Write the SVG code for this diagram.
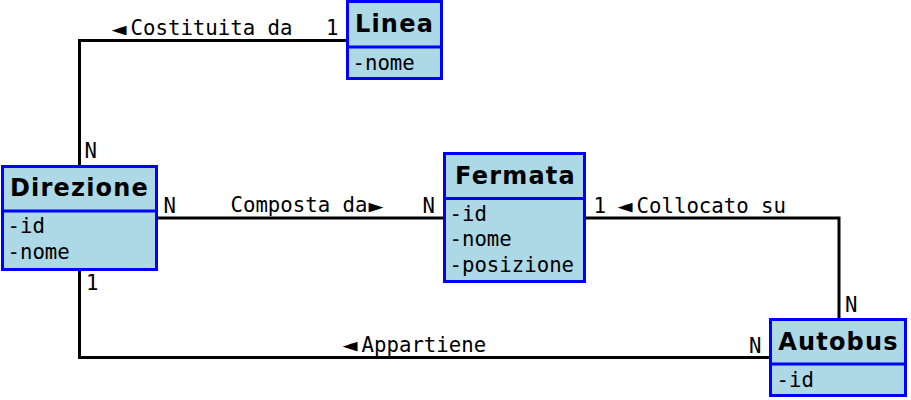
<svg xmlns="http://www.w3.org/2000/svg" width="911" height="400" viewBox="0 0 911 400">
<style>
.box{fill:#add8e6;stroke:#0000ff;stroke-width:3}
.div{stroke:#0000ff;stroke-width:3}
.hdr{font-family:"DejaVu Sans",sans-serif;font-weight:bold;font-size:24px;letter-spacing:1.2px;text-anchor:middle;fill:#000}
.fld{font-family:"DejaVu Sans Mono",monospace;font-size:20.7px;fill:#000}
.lbl{font-family:"DejaVu Sans Mono",monospace;font-size:20.7px;fill:#000}
.arr{font-size:25px;letter-spacing:4px}
.con{fill:none;stroke:#000;stroke-width:3}
</style>
<g id="connectors">
<path class="con" d="M346,40.5 H79.5 V165"/>
<path class="con" d="M158,218 H443"/>
<path class="con" d="M586,218 H839 V318"/>
<path class="con" d="M79.5,271 V357.5 H769"/>
<text class="lbl" x="111.5" y="35"><tspan class="arr" dy="1.5">◄</tspan><tspan dy="-1.5">Costituita da</tspan></text>
<text class="lbl" x="326" y="35">1</text>
<text class="lbl" x="84.5" y="158">N</text>
<text class="lbl" x="163.5" y="212.5">N</text>
<text class="lbl" x="86" y="290">1</text>
<text class="lbl" x="230.5" y="212">Composta da<tspan class="arr" dx="1" dy="1.5">►</tspan></text>
<text class="lbl" x="422.5" y="212.5">N</text>
<text class="lbl" x="593.5" y="212.5">1</text>
<text class="lbl" x="617.5" y="212.5"><tspan class="arr" dy="1.5">◄</tspan><tspan dy="-1.5">Collocato su</tspan></text>
<text class="lbl" x="845" y="311.7">N</text>
<text class="lbl" x="749" y="352.7">N</text>
<text class="lbl" x="342.5" y="351.7"><tspan class="arr" dy="1.5">◄</tspan><tspan dy="-1.5">Appartiene</tspan></text>
</g>
<g id="Linea">
<rect class="box" x="347.5" y="1.5" width="94" height="77"/>
<line class="div" x1="347.5" y1="47" x2="441.5" y2="47"/>
<text class="hdr" x="394.5" y="31.7">Linea</text>
<text class="fld" x="352.5" y="70">-nome</text>
</g>
<g id="Direzione">
<rect class="box" x="2.5" y="166.5" width="154" height="103"/>
<line class="div" x1="2.5" y1="211" x2="156.5" y2="211"/>
<text class="hdr" x="79.5" y="196">Direzione</text>
<text class="fld" x="7.5" y="232.7">-id</text>
<text class="fld" x="7.5" y="259">-nome</text>
</g>
<g id="Fermata">
<rect class="box" x="444.5" y="153.5" width="140" height="128"/>
<line class="div" x1="444.5" y1="198.5" x2="584.5" y2="198.5"/>
<text class="hdr" x="515.5" y="184">Fermata</text>
<text class="fld" x="449.5" y="221">-id</text>
<text class="fld" x="449.5" y="246">-nome</text>
<text class="fld" x="449.5" y="271.7">-posizione</text>
</g>
<g id="Autobus">
<rect class="box" x="770.5" y="319.5" width="135" height="76"/>
<line class="div" x1="770.5" y1="364" x2="905.5" y2="364"/>
<text class="hdr" x="838.5" y="350">Autobus</text>
<text class="fld" x="776.5" y="386.7">-id</text>
</g>
</svg>
